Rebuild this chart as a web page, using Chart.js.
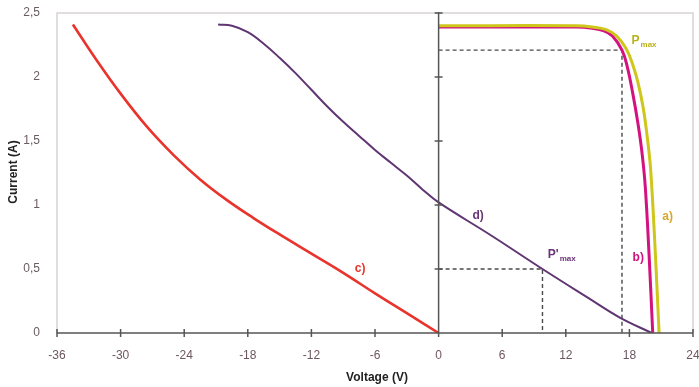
<!DOCTYPE html>
<html>
<head>
<meta charset="utf-8">
<script src="https://cdn.jsdelivr.net/npm/chart.js@4/dist/chart.umd.min.js"></script>
<style>
  html, body { margin: 0; padding: 0; background: #fff; }
  canvas { display: block; }
</style>
</head>
<body>
<canvas id="grafic" width="699" height="387"></canvas>
<script>
// corbes I-V (tensio en V, corrent en A)
const tensioA = [0, 13, 14.5, 15.8, 16.8, 17.7, 18.3, 18.8, 19.3, 19.7, 20.0, 20.4, 20.8];
const correntA = [2.40, 2.40, 2.39, 2.37, 2.32, 2.22, 2.10, 1.96, 1.76, 1.52, 1.28, 0.70, 0];

const tensioB = [0, 13, 14.5, 15.6, 16.4, 17.3, 17.8, 18.3, 18.8, 19.2, 19.5, 19.85, 20.2];
const correntB = [2.39, 2.39, 2.38, 2.36, 2.32, 2.21, 2.08, 1.88, 1.64, 1.40, 1.14, 0.62, 0];

const tensioC = [-34.5, -32.5, -30, -27.5, -25, -22.5, -20, -17.5, -15, -12, -9, -6, -3, 0];
const correntC = [2.41, 2.16, 1.87, 1.61, 1.39, 1.20, 1.04, 0.90, 0.77, 0.62, 0.47, 0.31, 0.155, 0];

const tensioD = [-20.8, -19.5, -18, -16.5, -15, -13.5, -12, -10.5, -9, -7.5, -6, -4.5, -3, -1.5, 0, 5, 9.8, 14, 17.1, 20.1];
const correntD = [2.41, 2.40, 2.35, 2.26, 2.15, 2.03, 1.90, 1.77, 1.65, 1.54, 1.43, 1.33, 1.23, 1.12, 1.02, 0.76, 0.5, 0.28, 0.12, 0];

// linies de punt maxim
const guiaPmaxV = [0, 17.3, 17.3];
const guiaPmaxI = [2.21, 2.21, 0];
const guiaPmax2V = [0, 9.8, 9.8];
const guiaPmax2I = [0.5, 0.5, 0];

// etiquetes: text, subindex, tensio, corrent, color
const etiquetes = [
  ['P', 'max', 18.2, 2.28, '#b9b21a'],
  ['a)', '', 21.1, 0.91, '#d9a62a'],
  ['b)', '', 18.3, 0.59, '#d0127f'],
  ['c)', '', -7.9, 0.50, '#e8342c'],
  ['d)', '', 3.2, 0.92, '#6a3478'],
  ["P'", 'max', 10.3, 0.61, '#6a3478']
];

function punts(xs, ys) {
  return xs.map((x, i) => ({ x: x, y: ys[i] }));
}

function corba(dades, color, gruix, ordre) {
  return {
    data: dades,
    borderColor: color,
    borderWidth: gruix,
    pointRadius: 0,
    showLine: true,
    fill: false,
    tension: 0.4,
    order: ordre
  };
}

function guia(dades) {
  return {
    data: dades,
    borderColor: '#4a4a4a',
    borderWidth: 1.4,
    borderDash: [4, 3],
    pointRadius: 0,
    showLine: true,
    fill: false,
    tension: 0,
    order: 10
  };
}

// eixos, creus i etiquetes dibuixats a ma
const extres = {
  id: 'extres',
  afterDatasetsDraw(chart) {
    const c = chart.ctx;
    const sx = chart.scales.x, sy = chart.scales.y;
    const a = chart.chartArea;
    c.save();

    // marc clar
    c.strokeStyle = '#d9d2d4';
    c.lineWidth = 1.5;
    c.beginPath();
    c.moveTo(a.left, a.bottom);
    c.lineTo(a.left, a.top);
    c.lineTo(a.right, a.top);
    c.lineTo(a.right, a.bottom);
    c.stroke();

    // eix x amb marques creuades
    c.strokeStyle = '#555';
    c.lineWidth = 1.5;
    c.beginPath();
    c.moveTo(a.left, a.bottom);
    c.lineTo(a.right, a.bottom);
    sx.ticks.forEach(t => {
      const px = sx.getPixelForValue(t.value);
      c.moveTo(px, a.bottom - 4);
      c.lineTo(px, a.bottom + 4);
    });
    // eix vertical a V = 0
    const x0 = sx.getPixelForValue(0);
    c.moveTo(x0, a.bottom);
    c.lineTo(x0, a.top - 1);
    sy.ticks.forEach(t => {
      const py = sy.getPixelForValue(t.value);
      c.moveTo(x0 - 4, py);
      c.lineTo(x0 + 4, py);
    });
    c.stroke();

    // etiquetes de corba
    etiquetes.forEach(([txt, sub, v, i, col]) => {
      const px = sx.getPixelForValue(v);
      const py = sy.getPixelForValue(i);
      c.fillStyle = col;
      c.textBaseline = 'middle';
      c.textAlign = 'left';
      c.font = 'bold 12px "Liberation Sans", Arial, sans-serif';
      c.fillText(txt, px, py);
      if (sub) {
        const w = c.measureText(txt).width;
        c.font = 'bold 8px "Liberation Sans", Arial, sans-serif';
        c.fillText(sub, px + w + 1, py + 4);
      }
    });

    // titols dels eixos
    c.fillStyle = '#222';
    c.font = 'bold 12px "Liberation Sans", Arial, sans-serif';
    c.textAlign = 'center';
    c.textBaseline = 'middle';
    c.fillText('Voltage (V)', 377, 378);
    c.translate(14, 172);
    c.rotate(-Math.PI / 2);
    c.fillText('Current (A)', 0, 0);
    c.restore();
  }
};

const ctx = document.getElementById('grafic').getContext('2d');

new Chart(ctx, {
  type: 'scatter',
  data: {
    datasets: [
      corba(punts(tensioA, correntA), '#cfc61c', 3, 0),
      corba(punts(tensioB, correntB), '#d3127f', 3, 1),
      corba(punts(tensioC, correntC), '#e8342c', 2.6, 2),
      corba(punts(tensioD, correntD), '#5f3572', 2, 3),
      guia(punts(guiaPmaxV, guiaPmaxI)),
      guia(punts(guiaPmax2V, guiaPmax2I))
    ]
  },
  options: {
    responsive: false,
    animation: false,
    layout: { padding: { top: 13, right: 6, left: 0, bottom: 0 } },
    plugins: { legend: { display: false }, tooltip: { enabled: false } },
    scales: {
      x: {
        type: 'linear',
        min: -36,
        max: 24,
        afterFit: s => { s.height = 54; s.paddingLeft = 0; s.paddingRight = 0; },
        border: { display: false },
        grid: { display: false },
        ticks: {
          stepSize: 6,
          padding: 7,
          color: '#6e5660',
          font: { family: '"Liberation Sans", Arial, sans-serif', size: 12 }
        }
      },
      y: {
        min: 0,
        max: 2.5,
        afterFit: s => { s.width = 57; s.paddingTop = 0; s.paddingBottom = 0; },
        border: { display: false },
        grid: { display: false },
        ticks: {
          stepSize: 0.5,
          padding: 9,
          color: '#6b5b63',
          font: { family: '"Liberation Sans", Arial, sans-serif', size: 12 },
          callback: v => String(v).replace('.', ',')
        }
      }
    }
  },
  plugins: [extres]
});
</script>
</body>
</html>
